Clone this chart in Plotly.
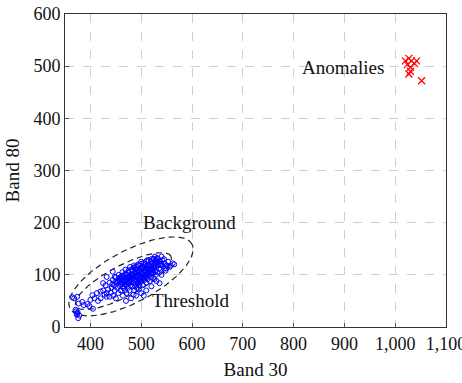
import numpy as np
import plotly.graph_objects as go

# Background samples (Band 30, Band 80)
bg_x = [364, 368, 374, 377, 384, 387, 394, 371, 374, 376, 378, 372, 375, 373,
        400, 404, 413, 420, 398, 408, 415, 405,
        420, 425, 428, 430, 432, 435, 438, 440, 442, 444, 445, 447, 448, 450, 450, 452,
        453, 455, 456, 457, 458, 460, 460, 462, 463, 464, 465, 466, 467, 468, 469, 470,
        470, 471, 472, 473, 474, 475, 476, 477, 478, 478, 479, 480,
        481, 482, 483, 484, 485, 486, 486, 487, 488, 489, 490, 490, 491, 492, 493, 494,
        495, 495, 496, 497, 498, 499, 500, 500, 501, 502, 503, 504, 505, 506, 507, 508,
        509, 510, 510, 511, 512, 513, 514, 515, 516, 517, 518, 519, 520, 520,
        522, 523, 524, 525, 526, 527, 528, 529, 530, 531, 532, 534, 535, 536, 537, 538,
        540, 540, 542, 545, 546, 548, 550, 553, 556, 562, 565, 533, 527, 545, 540,
        470, 480, 490, 500, 510, 495, 485, 520, 530, 505, 432, 438, 448, 444, 432, 425,
        458, 462, 476, 484, 492, 498, 506, 514, 488, 478, 468, 502, 496, 482, 474, 466,
        461, 466, 471, 476, 481, 486, 491, 496, 501, 506, 511, 516, 521, 526, 531, 536,
        464, 469, 474, 479, 484, 489, 494, 499, 504, 509, 514, 519, 524, 529, 534, 539,
        455, 460, 465, 470, 475, 480, 485, 490, 495, 500, 505, 510, 515, 520, 525, 530,
        443, 449, 454, 459, 487, 493, 497, 503, 508, 513, 518, 523, 528, 549, 552, 558]
bg_y = [57, 55, 58, 45, 48, 42, 44, 33, 26, 17, 22, 30, 28, 24,
        52, 61, 65, 68, 40, 55, 50, 35,
        55, 70, 62, 80, 58, 72, 85, 66, 75, 90, 60, 80, 70, 95, 55, 85,
        75, 65, 100, 88, 78, 70, 92, 82, 105, 60, 75, 95, 88, 70, 110, 80,
        100, 65, 90, 85, 75, 105, 95, 70, 115, 88, 80, 100,
        92, 78, 108, 85, 98, 70, 118, 90, 102, 82, 95, 110, 75, 88, 100, 120,
        85, 105, 92, 78, 112, 98, 88, 125, 105, 95, 80, 115, 100, 90, 108, 120,
        95, 85, 112, 102, 128, 92, 118, 105, 98, 88, 115, 108, 125, 95,
        110, 102, 130, 118, 92, 108, 122, 100, 115, 132, 105, 120, 112, 84, 126, 110,
        100, 118, 128, 112, 122, 108, 118, 125, 115, 122, 120, 131, 135, 130, 135,
        50, 55, 60, 65, 70, 72, 62, 78, 88, 60, 65, 58, 96, 106, 96, 84,
        90, 98, 84, 94, 104, 86, 96, 106, 112, 96, 82, 114, 80, 100, 92, 86,
        86, 90, 94, 97, 100, 103, 106, 108, 111, 113, 116, 118, 120, 122, 124, 126,
        78, 82, 86, 90, 93, 96, 99, 102, 104, 107, 110, 112, 114, 117, 119, 121,
        92, 96, 99, 102, 108, 110, 114, 116, 118, 121, 123, 126, 128, 130, 131, 128,
        82, 86, 88, 94, 80, 84, 90, 92, 98, 100, 102, 104, 106, 112, 116, 118]

# Anomalous samples
an_x = [1020, 1027, 1032, 1042, 1030, 1030, 1027, 1052, 1038, 1024]
an_y = [510, 515, 510, 510, 498, 490, 485, 472, 505, 503]

# Ellipse parameters: (center x, center y, semi-major, semi-minor, angle deg)
outer_ell = (480, 97, 135, 50, 27)
inner_ell = (465, 88, 105, 30, 27)

x_ticks = [400, 500, 600, 700, 800, 900, 1000, 1100]
y_ticks = [0, 100, 200, 300, 400, 500, 600]

FONT = "Liberation Serif"


def ellipse(params, n=200):
    cx, cy, a, b, ang = params
    t = np.linspace(0, 2 * np.pi, n)
    th = np.deg2rad(ang)
    ex = cx + a * np.cos(t) * np.cos(th) - b * np.sin(t) * np.sin(th)
    ey = cy + a * np.cos(t) * np.sin(th) + b * np.sin(t) * np.cos(th)
    return ex, ey


fig = go.Figure()
for p in (outer_ell, inner_ell):
    ex, ey = ellipse(p)
    fig.add_trace(go.Scatter(x=ex, y=ey, mode="lines",
                             line=dict(color="#222222", width=1.2, dash="6px,4px"),
                             hoverinfo="skip"))

fig.add_trace(go.Scatter(x=bg_x, y=bg_y, mode="markers",
                         marker=dict(symbol="circle-open", size=5, color="#0000ff",
                                     line=dict(width=1))))
fig.add_trace(go.Scatter(x=an_x, y=an_y, mode="markers",
                         marker=dict(symbol="x-thin-open", size=7, color="#ff0000",
                                     line=dict(width=1.2, color="#ff0000"))))

fig.add_annotation(x=596, y=201, text="Background", showarrow=False,
                   font=dict(family=FONT, size=19, color="#111111"))
fig.add_annotation(x=599, y=50, text="Threshold", showarrow=False,
                   font=dict(family=FONT, size=19, color="#111111"))
fig.add_annotation(x=898, y=498, text="Anomalies", showarrow=False,
                   font=dict(family=FONT, size=19, color="#111111"))

axis_common = dict(showline=True, linecolor="#333333", linewidth=1, mirror=True,
                   showgrid=True, gridcolor="#cfcfcf", griddash="dash", gridwidth=1,
                   ticks="inside", ticklen=4, tickcolor="#555555", zeroline=False,
                   automargin=False, ticklabeloverflow="allow",
                   tickfont=dict(family=FONT, size=18, color="#111111"))

fig.update_layout(
    width=462, height=383,
    margin=dict(l=65, r=16, t=14, b=56),
    paper_bgcolor="white", plot_bgcolor="white",
    showlegend=False,
    xaxis=dict(range=[350, 1100], tickvals=x_ticks, tickformat=",",
               title=dict(text="Band 30", font=dict(family=FONT, size=19, color="#111111"),
                          standoff=10),
               **axis_common),
    yaxis=dict(range=[0, 600], tickvals=y_ticks,
               title=dict(text="Band 80", font=dict(family=FONT, size=19, color="#111111"),
                          standoff=8),
               **axis_common),
)

fig.write_html("out.html")
